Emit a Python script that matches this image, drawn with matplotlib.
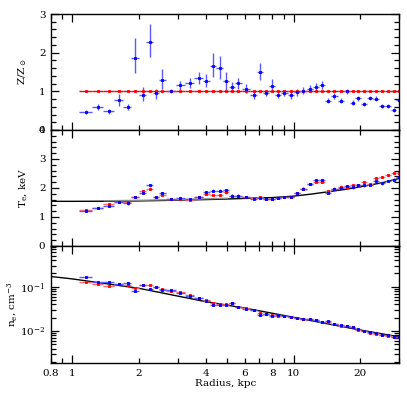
import numpy as np
import matplotlib
matplotlib.use('Agg')
import matplotlib.pyplot as plt
from matplotlib.ticker import MultipleLocator, LogLocator, NullFormatter

plt.rcParams['font.family'] = 'DejaVu Serif'
plt.rcParams['mathtext.fontset'] = 'dejavuserif'
plt.rcParams['font.size'] = 7.5

# bin centres, kpc
radii = np.array([1.148, 1.300, 1.457, 1.617, 1.775, 1.918, 2.084, 2.236, 2.390, 2.544,
                  2.781, 3.075, 3.394, 3.718, 4.027, 4.316, 4.622, 4.955, 5.257, 5.623,
                  6.10, 6.577, 7.028, 7.464, 7.943, 8.47, 9.07, 9.69, 10.38, 11.05,
                  11.80, 12.57, 13.45, 14.32, 15.24, 16.33, 17.38, 18.44, 19.54, 20.80,
                  22.07, 23.48, 24.92, 26.68, 28.39, 29.8])

# abundance (blue), errors low / high
abund = [0.46, 0.59, 0.48, 0.78, 0.60, 1.87, 0.91, 2.27, 0.95, 1.29,
         1.00, 1.16, 1.22, 1.34, 1.28, 1.66, 1.60, 1.27, 1.11, 1.21,
         1.07, 0.91, 1.50, 0.95, 1.14, 0.91, 0.95, 0.91, 0.98, 1.02,
         1.07, 1.12, 1.16, 0.76, 0.88, 0.76, 1.00, 0.71, 0.82, 0.67,
         0.83, 0.81, 0.62, 0.62, 0.52, 0.78]
abund_lo = [0.05, 0.07, 0.06, 0.15, 0.08, 0.39, 0.16, 0.39, 0.14, 0.24,
            0.05, 0.12, 0.13, 0.14, 0.16, 0.30, 0.29, 0.25, 0.13, 0.14,
            0.12, 0.10, 0.21, 0.08, 0.15, 0.08, 0.08, 0.11, 0.09, 0.09,
            0.10, 0.10, 0.10, 0.06, 0.07, 0.06, 0.06, 0.06, 0.07, 0.05,
            0.06, 0.06, 0.05, 0.05, 0.05, 0.06]
abund_hi = [0.05, 0.07, 0.06, 0.15, 0.08, 0.50, 0.20, 0.46, 0.12, 0.28,
            0.05, 0.12, 0.13, 0.15, 0.16, 0.32, 0.31, 0.24, 0.13, 0.14,
            0.12, 0.10, 0.24, 0.08, 0.17, 0.08, 0.08, 0.11, 0.09, 0.09,
            0.10, 0.10, 0.10, 0.06, 0.07, 0.06, 0.06, 0.06, 0.07, 0.05,
            0.06, 0.06, 0.05, 0.05, 0.05, 0.06]
abund_fixed = 1.0

# temperature, keV
temp_blue = [1.22, 1.31, 1.37, 1.52, 1.47, 1.70, 1.84, 2.11, 1.70, 1.82,
             1.63, 1.66, 1.63, 1.70, 1.86, 1.91, 1.91, 1.92, 1.74, 1.74,
             1.70, 1.63, 1.66, 1.63, 1.61, 1.67, 1.70, 1.70, 1.82, 1.98,
             2.14, 2.26, 2.26, 1.84, 1.98, 2.00, 2.07, 2.02, 2.09, 2.09,
             2.11, 2.25, 2.16, 2.25, 2.29, 2.38]
temp_red = [1.24, 1.31, 1.45, 1.52, 1.52, 1.68, 1.88, 1.98, 1.70, 1.77,
            1.62, 1.63, 1.59, 1.68, 1.79, 1.77, 1.77, 1.85, 1.74, 1.74,
            1.68, 1.66, 1.68, 1.61, 1.61, 1.67, 1.70, 1.70, 1.82, 1.98,
            2.14, 2.22, 2.22, 1.89, 1.97, 2.05, 2.05, 2.09, 2.11, 2.20,
            2.13, 2.34, 2.37, 2.44, 2.52, 2.50]
temp_err = 0.04

# density, cm^-3
dens_blue = [0.168, 0.130, 0.125, 0.115, 0.119, 0.081, 0.109, 0.089, 0.097, 0.084,
             0.084, 0.073, 0.062, 0.055, 0.047, 0.039, 0.039, 0.038, 0.042, 0.035,
             0.031, 0.030, 0.0226, 0.0242, 0.0218, 0.0230, 0.0218, 0.0210, 0.0193, 0.0190,
             0.0183, 0.0177, 0.0160, 0.0165, 0.0146, 0.0134, 0.0130, 0.0121, 0.0109, 0.0100,
             0.0095, 0.0089, 0.0083, 0.0080, 0.0075, 0.0072]
dens_red = [0.130, 0.113, 0.104, 0.113, 0.110, 0.092, 0.109, 0.109, 0.097, 0.089,
            0.081, 0.076, 0.065, 0.057, 0.050, 0.042, 0.041, 0.041, 0.042, 0.035,
            0.033, 0.030, 0.026, 0.0242, 0.0225, 0.0218, 0.0218, 0.0203, 0.0197, 0.0187,
            0.0183, 0.0177, 0.0163, 0.0160, 0.0144, 0.0132, 0.0128, 0.0121, 0.0105, 0.0098,
            0.0092, 0.0084, 0.0081, 0.0077, 0.0073, 0.0072]
dens_frac_err = 0.04

# model curves
model_r = [0.8, 1.0, 1.5, 2.0, 3.0, 4.0, 5.0, 6.0, 8.0, 10.0, 12.0, 14.0, 17.0, 20.0, 25.0, 30.0]
model_t = [1.54, 1.54, 1.545, 1.555, 1.58, 1.60, 1.62, 1.64, 1.67, 1.72, 1.79, 1.86, 1.95, 2.04, 2.18, 2.33]
model_t_grey_r = [1.4, 2.0, 3.0, 4.0, 5.0]
model_t_grey = [1.56, 1.575, 1.60, 1.625, 1.645]
model_nr = [0.8, 1.0, 2.0, 4.0, 6.0, 10.0, 20.0, 30.0]
model_n = [0.170, 0.150, 0.092, 0.046, 0.033, 0.0204, 0.0105, 0.0074]

# bin edges from neighbouring centres
edges = np.sqrt(radii[:-1] * radii[1:])
lo = np.r_[1.07, edges]
hi = np.r_[edges, 30.6]
xerr = [radii - lo, hi - radii]

blue = '#0000ff'
red = '#ff0000'
lblue = (0.35, 0.35, 1.0)
lred = (1.0, 0.4, 0.4)

fig = plt.figure(figsize=(4.07, 4.07), dpi=100)
W = 0.856
L = 0.1253
ax1 = fig.add_axes([L, 0.6806, W, 0.2850])
ax2 = fig.add_axes([L, 0.3956, W, 0.2850])
ax3 = fig.add_axes([L, 0.1081, W, 0.2875])

ekw = dict(fmt='s', ms=1.5, mew=0.6, elinewidth=1.0, capsize=0, lw=0)

# top panel
ax1.errorbar(radii, np.full(len(radii), abund_fixed), xerr=xerr, color=red, ecolor=red, **ekw)
ax1.errorbar(radii, abund, xerr=xerr, yerr=[abund_lo, abund_hi], color=blue, ecolor=lblue, **ekw)
ax1.set_ylim(0, 3)
ax1.yaxis.set_major_locator(MultipleLocator(1))
ax1.yaxis.set_minor_locator(MultipleLocator(0.2))
ax1.set_ylabel(r'Z/Z$_\odot$', labelpad=7)

# middle panel
ax2.plot(model_r, model_t, color='black', lw=1.0)
ax2.plot(model_t_grey_r, model_t_grey, color='0.55', lw=1.0)
ax2.errorbar(radii, temp_red, xerr=xerr, yerr=temp_err, color=red, ecolor=lred, **ekw)
ax2.errorbar(radii, temp_blue, xerr=xerr, yerr=temp_err, color=blue, ecolor=lblue, **ekw)
ax2.set_ylim(0, 4)
ax2.yaxis.set_major_locator(MultipleLocator(1))
ax2.yaxis.set_minor_locator(MultipleLocator(0.2))
ax2.set_ylabel(r'T$_\mathrm{e}$, keV', labelpad=7)

# bottom panel
ax3.set_yscale('log')
ax3.plot(model_nr, model_n, color='black', lw=1.0)
dr = np.array(dens_red)
db = np.array(dens_blue)
ax3.errorbar(radii, dr, xerr=xerr, yerr=dr * dens_frac_err, color=red, ecolor=lred, **ekw)
ax3.errorbar(radii, db, xerr=xerr, yerr=db * dens_frac_err, color=blue, ecolor=lblue, **ekw)
ax3.set_ylim(0.0019, 0.83)
ax3.yaxis.set_major_locator(LogLocator(base=10, numticks=10))
ax3.yaxis.set_minor_locator(LogLocator(base=10, subs=np.arange(2, 10), numticks=10))
ax3.yaxis.set_minor_formatter(NullFormatter())
ax3.set_ylabel(r'n$_\mathrm{e}$, cm$^{-3}$', labelpad=1)
ax3.set_xlabel('Radius, kpc', labelpad=1)

for ax in (ax1, ax2, ax3):
    ax.set_xscale('log')
    ax.set_xlim(0.8, 30)
    ax.set_xticks([1, 10])
    ax.set_xticks([0.8, 0.9, 2, 3, 4, 5, 6, 7, 8, 9, 20, 30], minor=True)
    ax.tick_params(which='both', direction='in', top=True, right=True, width=0.9, pad=4)
    ax.tick_params(which='major', length=6)
    ax.tick_params(which='minor', length=3.5)
    for s in ax.spines.values():
        s.set_linewidth(1.0)
    if ax is ax3:
        ax.set_xticklabels(['1', '10'])
        ax.set_xticklabels(['0.8', '', '2', '', '4', '', '6', '', '8', '', '20', ''], minor=True)
    else:
        ax.set_xticklabels([])
        ax.set_xticklabels([], minor=True)

fig.savefig('out.png', dpi=100)
